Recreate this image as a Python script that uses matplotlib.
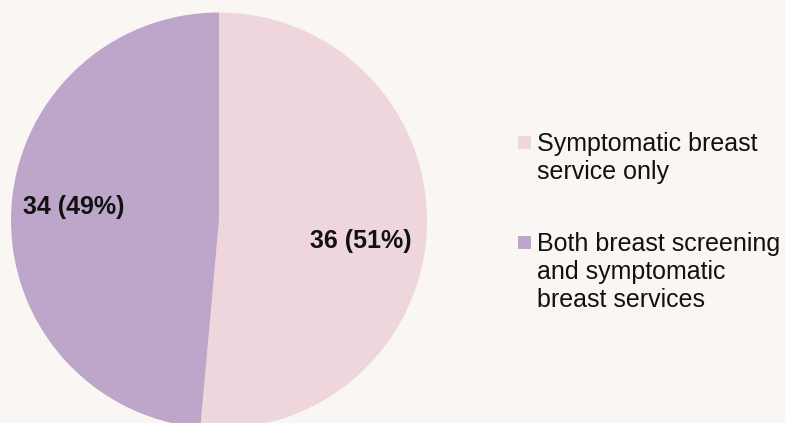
import matplotlib.pyplot as plt
from matplotlib.patches import Rectangle

plt.rcParams['font.family'] = ['Liberation Sans', 'DejaVu Sans']

labels = ['Symptomatic breast\nservice only',
          'Both breast screening\nand symptomatic\nbreast services']
counts = [36, 34]
colors = ['#efd6dc', '#bea6cb']
bg = '#f9f6f3'

W, H = 785, 423
fig = plt.figure(figsize=(W / 100, H / 100), dpi=100, facecolor=bg)

# pie centre / radius in pixels
cx, cy, r = 219, 220.5, 208
ax = fig.add_axes([(cx - r) / W, (H - cy - r) / H, 2 * r / W, 2 * r / H])
ax.set_facecolor(bg)
total = sum(counts)

wedges, _, autotexts = ax.pie(
    counts, colors=colors, startangle=90, counterclock=False,
    autopct=lambda p: '{:d} ({:.0f}%)'.format(int(round(p * total / 100)), p),
    pctdistance=0.69, radius=1,
    wedgeprops=dict(linewidth=0),
    textprops=dict(fontsize=18, fontweight='bold', color='#111111'))
ax.set_xlim(-1, 1)
ax.set_ylim(-1, 1)
ax.set_aspect('equal')

# nudge labels to where they sit in the original
autotexts[0].set_position((0.683, -0.099))
autotexts[1].set_position((-0.697, 0.065))

# legend drawn by hand so the square lines up with the first text line
tops = [136, 236]
line_h = 28
for lab, col, top in zip(labels, colors, tops):
    fig.patches.append(Rectangle((518 / W, (H - top - 13) / H), 13 / W, 13 / H,
                                 transform=fig.transFigure, facecolor=col,
                                 edgecolor='none'))
    for i, line in enumerate(lab.split('\n')):
        base = top + 15 + i * line_h
        fig.text(537 / W, (H - base) / H, line, fontsize=18, color='#111111',
                 va='baseline', ha='left')

fig.savefig('out.png', dpi=100, facecolor=bg)
